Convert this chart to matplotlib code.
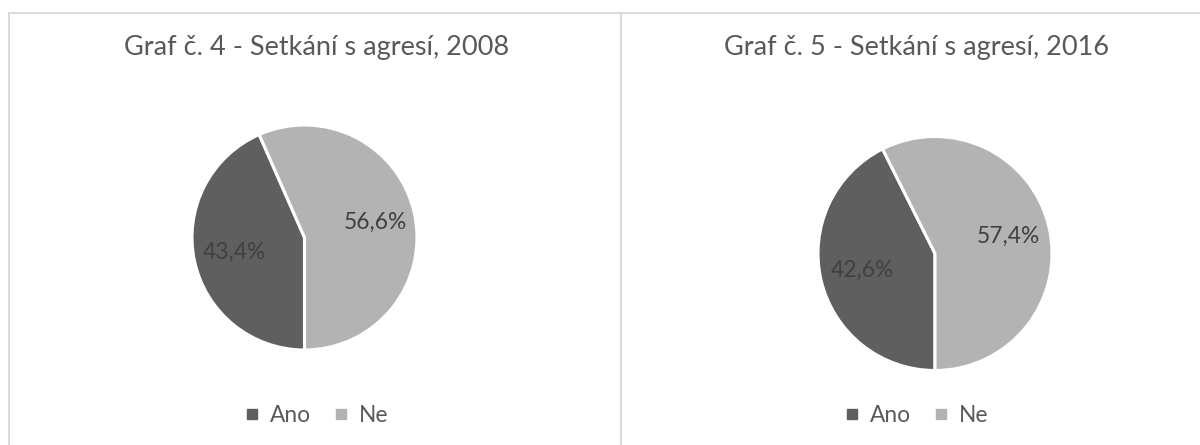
import matplotlib
matplotlib.use("Agg")
import matplotlib.pyplot as plt
from matplotlib.lines import Line2D

plt.rcParams['font.family'] = ['Lato', 'DejaVu Sans']

# ---- data ----
categories = ["Ano", "Ne"]
values_2008 = [43.4, 56.6]
values_2016 = [42.6, 57.4]
titles = ["Graf č. 4 - Setkání s agresí, 2008", "Graf č. 5 - Setkání s agresí, 2016"]

colors = ["#5f5f5f", "#b3b3b3"]
label_color = "#404040"
text_color = "#595959"
border_color = "#d9d9d9"

W, H = 1200, 445
fig = plt.figure(figsize=(W / 100, H / 100), dpi=100)
fig.patch.set_facecolor("white")

def fx(px):
    return px / W

def fy(py):
    return 1 - py / H

# panel borders
fig.add_artist(Line2D([fx(9), fx(1200)], [fy(13), fy(13)], color=border_color, lw=1.4, transform=fig.transFigure))
fig.add_artist(Line2D([fx(9), fx(9)], [fy(13), fy(445)], color=border_color, lw=1.4, transform=fig.transFigure))
fig.add_artist(Line2D([fx(621), fx(621)], [fy(13), fy(445)], color=border_color, lw=1.4, transform=fig.transFigure))

renderer = fig.canvas.get_renderer()

def fit_size(txt, target_px, base=20):
    t = fig.text(0, 0, txt, fontsize=base)
    w = t.get_window_extent(renderer=renderer).width
    t.remove()
    return base * target_px / w

title_fs = fit_size(titles[0], 385)
label_fs = fit_size("56,6%", 63)
legend_fs = fit_size("Ano", 41)

panels = [
    dict(vals=values_2008, title=titles[0], cx=304.5, cy=237.5, r=112.5, tx=317, ty=48),
    dict(vals=values_2016, title=titles[1], cx=935, cy=253.5, r=117, tx=917, ty=48),
]

def fmt(p):
    return f"{p:.1f}%".replace(".", ",")

for p in panels:
    r = p["r"]
    ax = fig.add_axes([fx(p["cx"] - r), fy(p["cy"] + r), 2 * r / W, 2 * r / H])
    wedges, texts, autotexts = ax.pie(
        p["vals"], colors=colors, startangle=270, counterclock=False,
        autopct=fmt, pctdistance=0.64,
        wedgeprops=dict(edgecolor="white", linewidth=2.2),
        textprops=dict(color=label_color, fontsize=label_fs),
    )
    for w in wedges:
        w.set_clip_on(False)
    ax.set_xlim(-1, 1)
    ax.set_ylim(-1, 1)
    ax.set_aspect("auto")
    ax.axis("off")

    fig.text(fx(p["tx"]), fy(p["ty"]), p["title"], ha="center", va="center",
             fontsize=title_fs, color=text_color)

    handles = [Line2D([], [], marker="s", linestyle="", color=c, markersize=6.5) for c in colors]
    fig.legend(handles, categories, loc="center", ncol=2, frameon=False,
               bbox_to_anchor=(fx(p["tx"]), fy(415)), fontsize=legend_fs,
               labelcolor=text_color, handlelength=0.6, handletextpad=0.5,
               columnspacing=1.0, borderpad=0, borderaxespad=0)

fig.savefig("out.png", dpi=100, facecolor="white")
